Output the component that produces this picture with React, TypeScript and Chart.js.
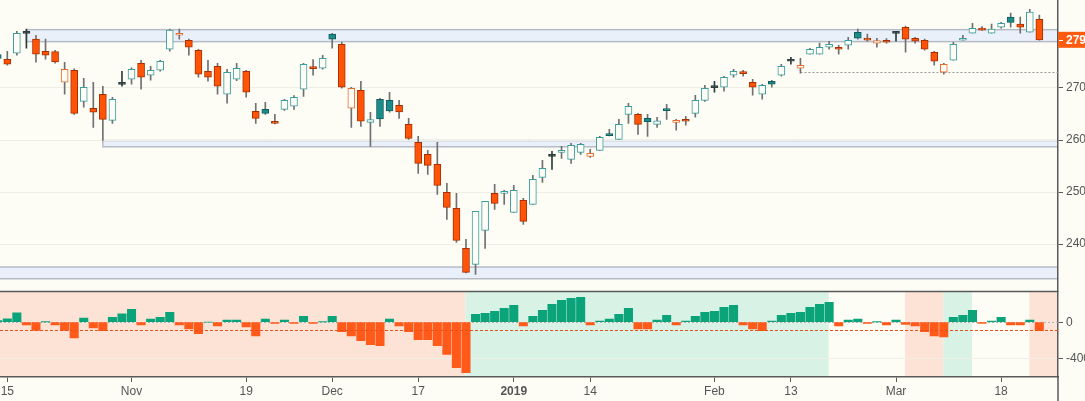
import { useEffect, useRef } from "react"
import { Chart, registerables, type Plugin } from "chart.js"

Chart.register(...registerables)

// trading days, Oct 12 2018 .. Mar 22 2019
const dates = [
  "2018-10-12", "2018-10-15", "2018-10-16", "2018-10-17", "2018-10-18", "2018-10-19", "2018-10-22", "2018-10-23", "2018-10-24", "2018-10-25", "2018-10-26", "2018-10-29", "2018-10-30", "2018-10-31",
  "2018-11-01", "2018-11-02", "2018-11-05", "2018-11-06", "2018-11-07", "2018-11-08", "2018-11-09", "2018-11-12", "2018-11-13", "2018-11-14", "2018-11-15", "2018-11-16", "2018-11-19", "2018-11-20", "2018-11-21", "2018-11-23", "2018-11-26", "2018-11-27", "2018-11-28", "2018-11-29", "2018-11-30",
  "2018-12-03", "2018-12-04", "2018-12-06", "2018-12-07", "2018-12-10", "2018-12-11", "2018-12-12", "2018-12-13", "2018-12-14", "2018-12-17", "2018-12-18", "2018-12-19", "2018-12-20", "2018-12-21", "2018-12-24", "2018-12-26", "2018-12-27", "2018-12-28", "2018-12-31",
  "2019-01-02", "2019-01-03", "2019-01-04", "2019-01-07", "2019-01-08", "2019-01-09", "2019-01-10", "2019-01-11", "2019-01-14", "2019-01-15", "2019-01-16", "2019-01-17", "2019-01-18", "2019-01-22", "2019-01-23", "2019-01-24", "2019-01-25", "2019-01-28", "2019-01-29", "2019-01-30", "2019-01-31",
  "2019-02-01", "2019-02-04", "2019-02-05", "2019-02-06", "2019-02-07", "2019-02-08", "2019-02-11", "2019-02-12", "2019-02-13", "2019-02-14", "2019-02-15", "2019-02-19", "2019-02-20", "2019-02-21", "2019-02-22", "2019-02-25", "2019-02-26", "2019-02-27", "2019-02-28",
  "2019-03-01", "2019-03-04", "2019-03-05", "2019-03-06", "2019-03-07", "2019-03-08", "2019-03-11", "2019-03-12", "2019-03-13", "2019-03-14", "2019-03-15", "2019-03-18", "2019-03-19", "2019-03-20", "2019-03-21", "2019-03-22",
]

const opens = [
  276.4, 275.52, 276.67, 280.5, 279.37, 277.06, 277.0, 271.1, 273.4, 267.44, 266.1, 268.79, 263.79, 270.7,
  271.67, 274.75, 272.44, 273.4, 277.44, 280.13, 279.17, 277.25, 273.21, 274.17, 268.79, 271.67, 273.21, 265.52, 265.9, 263.35, 265.9, 266.48, 269.75, 273.92, 273.79,
  280.33, 278.4, 266.1, 269.56, 263.4, 267.83, 267.63, 266.67, 263.02, 259.56, 257.25, 255.33, 249.94, 246.87, 239.17, 236.1, 242.63, 249.75, 249.75,
  246.1, 248.4, 247.63, 252.83, 256.87, 257.63, 256.29, 257.63, 256.87, 258.02, 261.0, 260.13, 264.94, 264.94, 264.17, 263.02, 265.8, 263.4, 263.98, 265.13, 267.63,
  270.06, 270.13, 272.44, 272.88, 271.1, 268.79, 271.29, 272.44, 275.13, 273.79, 276.48, 276.48, 277.83, 277.83, 278.21, 280.71, 279.37, 278.6, 278.98,
  280.5, 281.67, 279.56, 279.17, 276.87, 273.02, 275.33, 279.17, 280.52, 281.48, 280.52, 281.67, 283.6, 282.25, 280.71, 283.21,
]

const highs = [
  277.5, 277.06, 280.9, 281.29, 280.13, 279.37, 277.25, 274.94, 273.7, 271.87, 271.1, 270.33, 268.21, 273.21,
  273.85, 275.33, 274.17, 275.33, 281.29, 281.29, 279.37, 277.44, 275.33, 274.75, 273.6, 274.75, 273.4, 267.06, 267.25, 264.94, 267.83, 268.54, 274.75, 275.46, 276.29,
  280.52, 278.79, 270.13, 271.29, 265.33, 268.02, 269.17, 267.63, 264.17, 260.71, 258.02, 259.56, 251.67, 249.75, 240.9, 246.29, 248.21, 251.48, 250.33,
  251.29, 248.79, 253.21, 256.1, 257.83, 258.79, 259.37, 259.37, 258.21, 260.71, 262.06, 263.98, 267.06, 265.13, 264.94, 264.37, 266.87, 263.98, 264.56, 268.6, 270.52,
  271.29, 272.25, 273.6, 273.4, 271.67, 270.71, 271.48, 274.56, 275.9, 275.71, 277.63, 278.6, 278.98, 278.21, 279.75, 281.29, 280.33, 279.56, 279.5,
  280.9, 281.87, 279.75, 279.37, 277.06, 274.75, 278.79, 280.13, 282.44, 281.8, 282.25, 282.63, 284.37, 283.6, 285.13, 283.98,
]

const lows = [
  273.8, 274.37, 276.29, 277.63, 274.94, 275.52, 274.75, 268.79, 264.94, 266.29, 262.44, 259.94, 263.21, 270.33,
  270.71, 269.75, 271.48, 273.21, 277.06, 279.37, 276.29, 272.06, 271.29, 268.79, 267.06, 271.42, 268.21, 263.21, 264.94, 263.1, 265.71, 265.9, 268.4, 272.44, 273.6,
  277.63, 269.94, 262.44, 262.63, 258.79, 262.63, 265.33, 264.17, 260.13, 253.6, 253.4, 249.56, 244.75, 240.33, 234.46, 234.17, 239.17, 246.67, 247.63,
  246.1, 243.79, 247.63, 251.87, 254.37, 256.48, 255.52, 257.25, 256.67, 258.0, 260.8, 260.1, 263.21, 261.1, 260.71, 262.44, 263.98, 261.87, 262.83, 264.37, 267.44,
  269.17, 269.37, 272.06, 272.25, 268.6, 267.83, 270.13, 272.25, 274.56, 272.83, 276.48, 276.48, 277.44, 276.48, 277.44, 279.37, 278.98, 277.83, 278.6,
  278.98, 276.87, 278.6, 277.25, 274.37, 272.63, 275.33, 279.17, 280.52, 281.04, 280.52, 281.48, 281.67, 280.52, 280.71, 279.17,
]

const closes = [
  275.7, 274.56, 280.52, 280.5, 276.48, 276.29, 275.0, 273.6, 265.13, 270.13, 265.33, 263.98, 267.83, 270.7,
  273.6, 272.06, 273.4, 275.13, 281.1, 280.52, 277.83, 272.63, 272.06, 270.33, 273.02, 273.79, 269.17, 264.17, 265.13, 263.21, 267.63, 268.21, 274.56, 273.73, 275.71,
  279.37, 270.13, 269.94, 263.6, 263.95, 264.05, 265.6, 265.4, 260.33, 255.52, 255.13, 251.29, 247.06, 240.71, 234.56, 246.29, 248.21, 247.83, 250.13,
  250.33, 244.37, 252.44, 254.56, 256.87, 258.02, 258.98, 259.17, 257.44, 260.52, 260.85, 263.02, 266.48, 263.02, 263.55, 263.7, 265.65, 263.79, 263.6, 267.63, 269.94,
  270.06, 272.06, 273.21, 272.77, 270.13, 270.52, 270.71, 274.17, 275.13, 274.37, 277.44, 277.83, 278.4, 277.44, 279.17, 279.56, 279.2, 279.1, 278.79,
  280.5, 279.37, 278.98, 277.44, 275.13, 274.56, 278.4, 279.56, 281.48, 281.1, 281.29, 282.44, 282.6, 281.67, 284.56, 279.25,
]

// lower panel oscillator
const oscillator = [
  18, 36, 102, -29, -91, 2, -29, -91, -171, 44, -62, -94, 54, 91,
  142, -29, 33, 54, 109, -29, -73, -127, 0, -40, 22, 22, -51, -149, 33, -14, 22, -14, 65, -14, 4,
  65, -105, -149, -203, -247, -258, 33, -40, -105, -192, -192, -258, -352, -497, -552, 87, 98, 120, 152,
  185, -40, 65, 131, 196, 240, 261, 272, -29, 11, 33, 87, 152, -73, -73, 22, 76, -29, 11, 65, 109,
  120, 163, 185, -29, -73, -94, 11, 76, 98, 109, 163, 196, 218, -40, 22, 33, -14, 3, -29,
  22, -25, -40, -105, -149, -160, 54, 76, 131, -14, 11, 54, -29, -29, 22, -94,
]
const signalLevel = -90

const tickDates = ["2018-10-15", "2018-11-01", "2018-11-19", "2018-12-03", "2018-12-17", "2019-01-02", "2019-01-14", "2019-02-01", "2019-02-13", "2019-03-01", "2019-03-18"]
const tickLabels = ["15", "Nov", "19", "Dec", "17", "2019", "14", "Feb", "13", "Mar", "18"]
const priceTicks = [240, 250, 260, 270]
const oscTicks = [-400, 0]

// support / resistance zones
const zoneLows = [278.9, 258.7, 233.35]
const zoneHighs = [281.2, 259.9, 235.6]
const zoneStarts = ["2018-10-17", "2018-10-29", "2018-10-12"]
const pivotLevel = 273.0
const pivotStart = "2019-02-14"

// trend regimes shaded in the lower panel
const regimeStarts = ["2018-10-12", "2018-12-24", "2019-03-04", "2019-03-08", "2019-03-21"]
const regimeEnds = ["2018-12-24", "2019-02-20", "2019-03-08", "2019-03-13", ""]
const regimeTrend = ["down", "up", "down", "up", "down"]

const BG = "#fdfdf6"
const AXIS = "#5a5a5a"
const TEXT = "#555"
const GRID = "#efefe6"
const FONT = "'Liberation Sans', Arial, sans-serif"
const TEAL_LINE = "#3a9d9d"
const TEAL_FILL = "#1c8c8a"
const TEAL_DARK = "#0f5e5c"
const ORANGE_LINE = "#ea6a2c"
const RED_FILL = "#ff5407"
const RED_DARK = "#a83000"
const DOJI = "#2d3d3d"
const WICK = "#707070"
const UP_BAR = "#0aa37a"
const DOWN_BAR = "#ff5a1a"
const UP_ZONE = "#d9f2e6"
const DOWN_ZONE = "#fde2d6"
const BAND_FILL = "#e9f0fa"
const BAND_LINE = "#b6bcc6"
const TAG = "#ff5b0f"

const idx = (d: string) => dates.indexOf(d)

function candleColors(i: number) {
  const o = opens[i]
  const c = closes[i]
  if (o === c) return { fill: DOJI, stroke: DOJI }
  const rising = i === 0 || c >= closes[i - 1]
  if (c > o) return { fill: BG, stroke: rising ? TEAL_LINE : ORANGE_LINE }
  return rising ? { fill: TEAL_FILL, stroke: TEAL_DARK } : { fill: RED_FILL, stroke: RED_DARK }
}

// stop chart.js from reserving room for half a tick label at the panel edges
const noEdgePadding = (scale: any) => {
  scale.paddingTop = 0
  scale.paddingBottom = 0
  scale.paddingLeft = 0
  scale.paddingRight = 0
}

const panelPlugin: Plugin<"bar"> = {
  id: "panels",
  beforeDraw(chart) {
    const { ctx, chartArea: area, scales } = chart
    const x = scales.x
    const y = scales.y
    const y2 = scales.y2
    ctx.save()
    ctx.fillStyle = BG
    ctx.fillRect(0, 0, chart.width, chart.height)
    ctx.beginPath()
    ctx.rect(area.left, area.top, area.right - area.left, area.bottom - area.top)
    ctx.clip()

    regimeStarts.forEach((from, i) => {
      const x0 = x.getPixelForValue(idx(from)) - 0.5
      const x1 = regimeEnds[i] ? x.getPixelForValue(idx(regimeEnds[i])) - 0.5 : area.right
      ctx.fillStyle = regimeTrend[i] === "up" ? UP_ZONE : DOWN_ZONE
      ctx.fillRect(x0, y2.top, x1 - x0, y2.bottom - y2.top)
    })

    zoneLows.forEach((low, i) => {
      const x0 = x.getPixelForValue(idx(zoneStarts[i]))
      const top = y.getPixelForValue(zoneHighs[i])
      const bottom = y.getPixelForValue(low)
      ctx.fillStyle = BAND_FILL
      ctx.fillRect(x0, top, area.right - x0, bottom - top)
      ctx.strokeStyle = BAND_LINE
      ctx.lineWidth = 1.5
      ctx.strokeRect(x0, top, area.right - x0 + 4, bottom - top)
    })
    ctx.restore()
  },
  beforeDatasetsDraw(chart) {
    const { ctx, chartArea: area, scales } = chart
    const x = scales.x
    const y = scales.y
    const y2 = scales.y2
    ctx.save()
    ctx.lineWidth = 1
    ctx.setLineDash([2, 2])
    ctx.strokeStyle = "#9a9a9a"
    const py = Math.round(y.getPixelForValue(pivotLevel)) + 0.5
    ctx.beginPath()
    ctx.moveTo(x.getPixelForValue(idx(pivotStart)), py)
    ctx.lineTo(area.right, py)
    ctx.stroke()

    ctx.strokeStyle = "#b0b0b0"
    const zy = Math.round(y2.getPixelForValue(0)) + 0.5
    ctx.beginPath()
    ctx.moveTo(area.left, zy)
    ctx.lineTo(area.right, zy)
    ctx.stroke()
    ctx.restore()
  },
  afterDatasetsDraw(chart) {
    const { ctx, chartArea: area, scales } = chart
    const y2 = scales.y2
    ctx.save()
    ctx.lineWidth = 1
    ctx.setLineDash([3, 2])
    ctx.strokeStyle = "#e8501a"
    const sy = Math.round(y2.getPixelForValue(signalLevel)) + 0.5
    ctx.beginPath()
    ctx.moveTo(area.left, sy)
    ctx.lineTo(area.right, sy)
    ctx.stroke()
    ctx.restore()
  },
  afterDraw(chart) {
    const { ctx, chartArea: area, scales } = chart
    const y = scales.y
    ctx.save()
    ctx.strokeStyle = AXIS
    ctx.lineWidth = 1.5
    ctx.beginPath()
    ctx.moveTo(area.left, y.bottom)
    ctx.lineTo(area.right, y.bottom)
    ctx.moveTo(area.right, area.bottom)
    ctx.lineTo(area.right, chart.height)
    ctx.stroke()

    const last = closes[closes.length - 1]
    const ty = y.getPixelForValue(last)
    ctx.fillStyle = TAG
    ctx.fillRect(area.right, ty - 8, chart.width - area.right, 16)
    ctx.strokeStyle = "#fff"
    ctx.lineWidth = 1
    ctx.beginPath()
    ctx.moveTo(area.right + 1, Math.round(ty) + 0.5)
    ctx.lineTo(area.right + 5, Math.round(ty) + 0.5)
    ctx.stroke()
    ctx.fillStyle = "#fff"
    ctx.font = `bold 12px ${FONT}`
    ctx.textBaseline = "middle"
    ctx.textAlign = "left"
    ctx.fillText(String(Math.round(last)), area.right + 8, ty + 1)
    ctx.restore()
  },
}

export default function App() {
  const canvasRef = useRef<HTMLCanvasElement>(null)

  useEffect(() => {
    document.body.style.margin = "0"
    document.body.style.background = BG
    if (!canvasRef.current) return
    const ctx = canvasRef.current.getContext("2d")
    if (!ctx) return

    const candles = dates.map((_, i) => candleColors(i))
    const firstTick = idx(tickDates[0])

    const chart = new Chart(ctx, {
      type: "bar",
      data: {
        datasets: [
          {
            label: "bodies",
            data: dates.map((_, i) => ({ x: i, y: [opens[i], closes[i]] })) as any,
            yAxisID: "y",
            backgroundColor: candles.map((c) => c.fill),
            borderColor: candles.map((c) => c.stroke),
            borderWidth: 1,
            borderSkipped: false,
            barThickness: 7,
            minBarLength: 2,
            grouped: false,
            order: 0,
          },
          {
            label: "wicks",
            data: dates.map((_, i) => ({ x: i, y: [lows[i], highs[i]] })) as any,
            yAxisID: "y",
            backgroundColor: candles.map((c) => (c.fill === DOJI ? DOJI : WICK)),
            borderWidth: 0,
            barThickness: 1,
            grouped: false,
            order: 1,
          },
          {
            label: "oscillator",
            data: dates.map((_, i) => ({ x: i, y: oscillator[i] })) as any,
            yAxisID: "y2",
            backgroundColor: oscillator.map((v) => (v >= 0 ? UP_BAR : DOWN_BAR)),
            borderWidth: 0,
            barThickness: 8.4,
            grouped: false,
            order: 2,
          },
        ],
      },
      options: {
        responsive: false,
        maintainAspectRatio: false,
        animation: false,
        events: [],
        layout: { padding: 0 },
        plugins: {
          legend: { display: false },
          tooltip: { enabled: false },
        },
        scales: {
          x: {
            type: "linear",
            offset: false,
            min: firstTick - 7.3 / 9.556,
            max: firstTick - 7.3 / 9.556 + 1058 / 9.556,
            grid: { display: true, drawOnChartArea: false, offset: false, tickLength: 5, tickColor: AXIS },
            border: { display: true, color: AXIS, width: 1.5 },
            afterBuildTicks: (scale) => {
              scale.ticks = tickDates.map((d) => ({ value: idx(d) }))
            },
            afterFit: (scale) => {
              scale.height = 24
              noEdgePadding(scale)
            },
            ticks: {
              autoSkip: false,
              maxRotation: 0,
              padding: 2,
              color: TEXT,
              font: (c: any) => ({ family: FONT, size: 12, weight: c.tick && c.tick.label === "2019" ? "bold" : "normal" }),
              callback: (value) => tickLabels[tickDates.indexOf(dates[Number(value)])] ?? "",
            },
          },
          y: {
            type: "linear",
            position: "right",
            stack: "panels",
            stackWeight: 291.5,
            min: 230.9,
            max: 286.9,
            beginAtZero: false,
            grid: { color: GRID, tickLength: 5, tickColor: AXIS },
            border: { display: true, color: AXIS, width: 1.5 },
            afterBuildTicks: (scale) => {
              scale.ticks = priceTicks.map((v) => ({ value: v }))
            },
            afterFit: (scale) => {
              scale.width = 27
              noEdgePadding(scale)
            },
            ticks: { color: TEXT, padding: 3, font: { family: FONT, size: 12 }, callback: (v) => String(v) },
          },
          y2: {
            type: "linear",
            position: "right",
            stack: "panels",
            stackWeight: 85.5,
            min: -600,
            max: 336,
            beginAtZero: false,
            grid: { color: GRID, tickLength: 5, tickColor: AXIS },
            border: { display: true, color: AXIS, width: 1.5 },
            afterBuildTicks: (scale) => {
              scale.ticks = oscTicks.map((v) => ({ value: v }))
            },
            afterFit: (scale) => {
              scale.width = 27
              noEdgePadding(scale)
            },
            ticks: { color: TEXT, padding: 3, font: { family: FONT, size: 12 }, callback: (v) => String(v) },
          },
        },
      },
      plugins: [panelPlugin],
    })

    return () => {
      chart.destroy()
    }
  }, [])

  return (
    <div style={{ width: 1085, height: 401 }}>
      <canvas ref={canvasRef} width={1085} height={401} style={{ display: "block" }} />
    </div>
  )
}
